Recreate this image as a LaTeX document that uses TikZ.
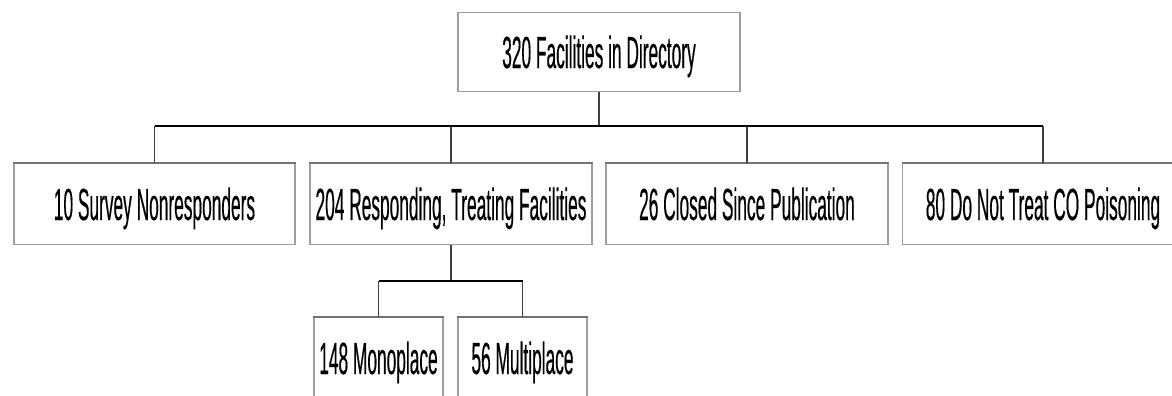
\documentclass[tikz,border=0pt]{standalone}
\usepackage{fontspec}
\setmainfont[FakeStretch=0.385,FakeBold=0.3]{Liberation Sans}
\tikzset{
  box/.style={draw=black!38, line width=1.3pt, fill=white, rectangle, inner sep=0pt,
    minimum height=81pt, font=\fontsize{45}{50}\selectfont, text height=32pt, text depth=0pt},
  boxtop/.style={line width=2.6pt, black!55},
  bus/.style={line width=2.6pt, black},
  drop/.style={line width=1.5pt, black!75},
}
\begin{document}
\begin{tikzpicture}[x=1pt,y=-1pt]
\useasboundingbox (0,0) rectangle (1172,396);
\clip (0,0) rectangle (1172,396);
\node[box, minimum width=282pt, minimum height=79pt] (top) at (599,52) {320 Facilities in Directory};
\node[box, minimum width=281pt] (b1) at (154.5,204) {10 Survey Nonresponders};
\node[box, minimum width=282pt] (b2) at (451,204) {204 Responding, Treating Facilities};
\node[box, minimum width=282pt] (b3) at (747,204) {26 Closed Since Publication};
\node[box, minimum width=281pt] (b4) at (1043,204) {80 Do Not Treat CO Poisoning};
\node[box, minimum width=129pt] (c1) at (378.5,358) {148 Monoplace};
\node[box, minimum width=129pt] (c2) at (522.5,358) {56 Multiplace};
\foreach \n in {b1,b2,b3,b4,c1,c2} \draw[boxtop] (\n.north west) -- (\n.north east);
\coordinate (busA) at (0,126);
\coordinate (busB) at (0,281);
\draw[drop] (top.south) -- (top.south |- busA);
\foreach \n in {b1,b2,b3,b4} \draw[drop] (\n.north) -- (\n.north |- busA);
\draw[bus] (b1.north |- busA) -- (b4.north |- busA);
\draw[drop] (b2.south) -- (b2.south |- busB);
\foreach \n in {c1,c2} \draw[drop] (\n.north) -- (\n.north |- busB);
\draw[bus] (c1.north |- busB) -- (c2.north |- busB);
\end{tikzpicture}
\end{document}
